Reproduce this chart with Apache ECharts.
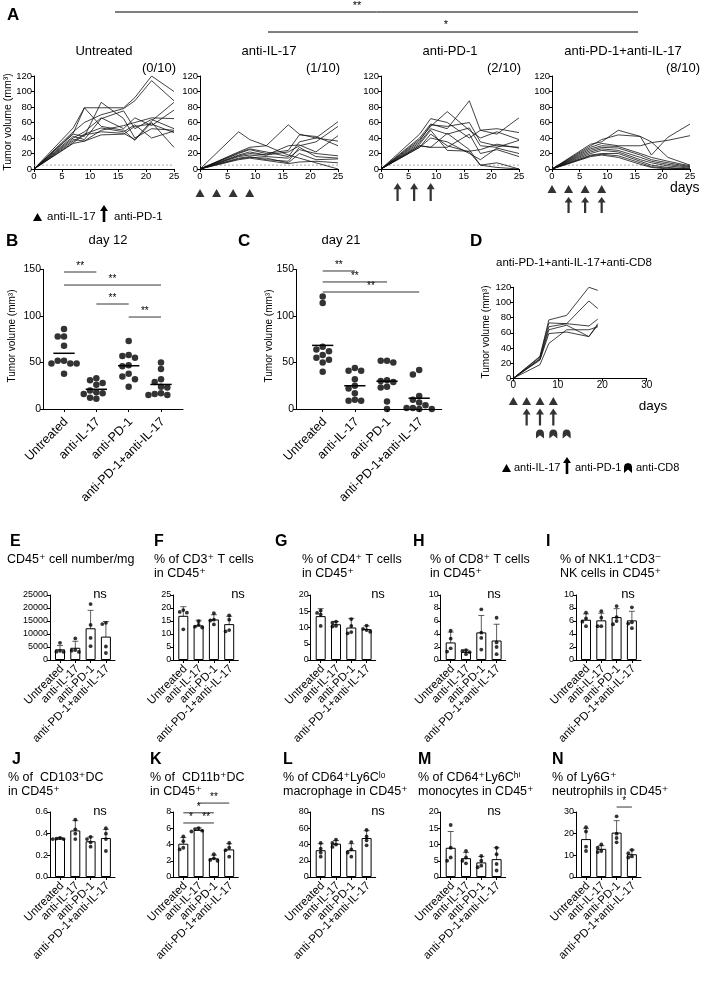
<!DOCTYPE html>
<html><head><meta charset="utf-8">
<script src="https://cdn.jsdelivr.net/npm/echarts@6/dist/echarts.min.js"></script>
<style>html,body{margin:0;padding:0;background:#fff}#c{width:701px;height:1000px}</style>
</head><body><div id="c"></div>
<script>
// ---------------- DATA ----------------
const groups = ['Untreated', 'anti-IL-17', 'anti-PD-1', 'anti-PD-1+anti-IL-17'];
const curveDays = [0, 7, 9, 12, 16, 18, 21, 25];
const untreatedCurves = [
  [0,53,79,79,79,92,120,100],[0,48,60,70,78,88,114,88],[0,46,79,55,50,37,60,28],
  [0,45,42,86,65,40,52,50],[0,42,38,65,75,52,64,52],[0,40,48,66,52,66,56,76],
  [0,38,36,50,56,60,66,65],[0,36,45,53,48,57,40,49],[0,34,44,48,46,38,62,86],
  [0,33,36,44,45,55,58,47]];
const antiIL17Curves = [
  [0,48,38,30,18,14,8,0],[0,22,28,30,57,45,40,36],[0,20,25,20,24,44,42,30],
  [0,21,26,22,16,35,40,61],[0,18,22,18,22,30,35,55],[0,17,20,18,30,31,22,43],
  [0,16,18,16,14,25,20,17],[0,14,16,12,10,28,16,14],[0,13,15,14,8,20,12,13],
  [0,12,14,11,7,9,10,8]];
const antiPD1Curves = [
  [0,45,65,60,40,50,52,47],[0,40,58,52,88,50,45,66],[0,38,55,74,50,40,48,38],
  [0,36,57,55,60,35,30,28],[0,34,52,45,53,30,28,37],[0,32,50,24,23,25,32,27],
  [0,30,28,28,45,20,25,16],[0,28,40,35,20,12,27,20],[0,28,45,30,22,5,8,0],
  [0,30,28,46,25,5,2,0]];
const comboCurves = [
  [0,32,35,50,42,35,15,5],[0,30,38,44,42,18,41,58],[0,28,33,30,30,34,37,43],
  [0,26,30,29,20,15,10,4],[0,24,28,27,18,12,8,3],[0,22,26,24,15,10,6,2],
  [0,20,24,22,12,8,4,1],[0,18,20,20,10,5,2,0],[0,17,19,17,8,3,1,0],
  [0,16,18,15,6,2,0,0]];
const panelATitles = ['Untreated', 'anti-IL-17', 'anti-PD-1', 'anti-PD-1+anti-IL-17'];
const panelAFree = ['(0/10)', '(1/10)', '(2/10)', '(8/10)'];
const tumorFreeThreshold = 5;

const il17Days = [0, 3, 6, 9];
const pd1Days = [3, 6, 9];
const cd8Days = [6, 9, 12];

const cd8CurveDays = [0, 6, 8, 12, 17, 19];
const cd8Curves = [
  [0,29,77,83,120,116],[0,28,73,72,102,92],[0,26,68,72,69,78],
  [0,25,64,70,55,72],[0,18,46,64,64,68],[0,24,59,61,55,70]];

const day12Volumes = [
  [86,78,78,68,52,52,49,49,49,38],
  [33,31,28,26,20,18,17,16,12,11],
  [73,58,57,55,47,46,38,35,32,24],
  [50,43,32,29,24,23,17,16,15,15]];
const day21Volumes = [
  [121,114,67,64,62,58,55,53,50,40],
  [44,41,41,32,25,22,17,10,9,9],
  [52,52,50,31,30,29,24,23,8,0],
  [42,37,14,10,7,4,1,1,0,0]];
const day12Sig = [[0,1,147.3,'**'],[0,3,133.3,'**'],[1,2,112.9,'**'],[2,3,98.9,'**']];
const day21Sig = [[0,1,148.4,'**'],[0,2,136.6,'**'],[0,3,125.8,'**']];

// flow panels: means, SD, individual mice
const cd45Means = [4100, 4700, 12200, 9000];
const cd45SD = [1500, 2500, 6900, 5800];
const cd45Dots = [[6600,3500,3200,3100],[8300,3600,3800,3100],[21500,13500,8500,5300],[14300,13800,5200,2700]];
const cd3Means = [17, 13.3, 15.6, 13.8];
const cd3SD = [3.5, 2, 1.8, 3];
const cd3Dots = [[19.2,18.5,18.2,11.8],[14.9,13.5,12.8,12.5],[18,15.5,15.2,13.7],[17.2,15.5,11.5,11.0]];
const cd4Means = [13.5, 11, 10, 9.5];
const cd4SD = [2.3, 0.8, 2.8, 1];
const cd4Dots = [[15.2,14.5,14,10.5],[11.8,11.5,10.5,10.3],[12.6,10.5,8.6,8.2],[10.6,9.6,9.2,8.7]];
const cd8Means = [2.7, 1.25, 4.25, 3.0];
const cd8SD = [1.6, 0.3, 2.6, 2.5];
const cd8Dots = [[4.5,3.3,1.8,1.3],[1.5,1.4,1.2,0.9],[7.8,4.2,3.4,1.6],[6.5,2.7,2.0,0.9]];
const nkMeans = [6.2, 6.1, 6.6, 6.1];
const nkSD = [0.9, 1.1, 1.3, 1.4];
const nkDots = [[7.3,6.4,5.9,5.2],[7.5,6.5,5.2,5.2],[8.3,6.6,6.0,5.5],[8.1,5.8,5.6,4.9]];
const cd103Means = [0.355, 0.43, 0.33, 0.36];
const cd103SD = [0.01, 0.09, 0.04, 0.08];
const cd103Dots = [[0.36,0.355,0.35,0.35],[0.53,0.44,0.40,0.35],[0.37,0.35,0.32,0.28],[0.45,0.40,0.35,0.24]];
const cd11bMeans = [4.1, 5.8, 2.3, 3.4];
const cd11bSD = [0.75, 0.25, 0.4, 0.7];
const cd11bDots = [[5.0,4.4,3.6,3.4],[6.0,5.9,5.7,5.6],[2.8,2.3,2.1,2.0],[4.2,3.6,3.3,2.5]];
const cd11bSig = [[1,3,9.1,'**'],[0,2,7.9,'*'],[0,1,6.65,'*'],[1,2,6.65,'**']];
const macMeans = [33, 41, 33, 48];
const macSD = [8, 4, 8, 9];
const macDots = [[42,35,30,25],[46,42,40,37],[43,34,30,25],[58,50,45,39]];
const monoMeans = [9, 5.8, 4.5, 5.5];
const monoSD = [5, 1.8, 1.8, 3.5];
const monoDots = [[16,9,6,5],[8,6,5,4.2],[6.5,5,3.5,3],[9,7,4,2]];
const neutMeans = [17.5, 13, 20.5, 10.5];
const neutSD = [5, 1.5, 5.5, 2];
const neutDots = [[23,21,14,12],[15,13.5,12,11.5],[28,20,18,16],[12.5,11,9.5,9]];
const neutSig = [[2,3,32.3,'*']];

// ---------------- BUILD ----------------
const FONT = '"Liberation Sans", Arial, Helvetica, "DejaVu Sans", sans-serif';
const option = {animation:false, backgroundColor:'#fff', grid:[], xAxis:[], yAxis:[], series:[], graphic:[]};

function axisBase(){
  return {
    axisLine:{show:true, onZero:false, lineStyle:{color:'#000', width:1}},
    axisTick:{show:true, inside:false, length:3, lineStyle:{color:'#000', width:1}},
    splitLine:{show:false}
  };
}
function valAxis(min, max, interval, fs, fmt){
  const a = axisBase();
  a.type='value'; a.min=min; a.max=max; a.interval=interval;
  a.axisLabel={show:true, fontSize:fs, color:'#000', fontFamily:FONT, margin:2,
    showMinLabel:true, showMaxLabel:true,
    formatter: fmt || (v=>String(Math.round(v*1000)/1000))};
  return a;
}
function catAxis(min, max){
  const a = axisBase();
  a.type='value'; a.min=min; a.max=max;
  a.axisTick.customValues=[0,1,2,3];
  a.axisLabel={show:false};
  return a;
}
// rotated group labels drawn at the category positions of the axis
function groupLabels(gi, ymin, fs, offset){
  option.series.push({type:'custom', xAxisIndex:gi, yAxisIndex:gi, silent:true, clip:false, z:5,
    data:groups.map((g,i)=>[i, ymin]),
    renderItem:(p, api)=>{
      const c = api.coord([api.value(0), api.value(1)]);
      return {type:'text', x:c[0]+2, y:c[1]+offset, rotation:Math.PI/4,
        style:{text:groups[p.dataIndex], align:'right', verticalAlign:'middle', fontSize:fs, fontFamily:FONT, fill:'#000'}};
    }});
}
function hiddenAxis(min, max){ return {type:'value', min, max, show:false}; }
function addGrid(g, xa, ya){
  option.grid.push(Object.assign({outerBoundsMode:'none', containLabel:false}, g));
  const i = option.grid.length-1;
  xa.gridIndex=i; ya.gridIndex=i;
  option.xAxis.push(xa); option.yAxis.push(ya);
  return i;
}
function T(text, x, y, o){
  o = o||{};
  option.graphic.push({type:'text', x, y, rotation:o.rot||0, silent:true, style:{
    text, fontSize:o.fs||12, fontFamily:FONT, fontWeight:o.fw||'normal', fill:'#000',
    align:o.align||'left', verticalAlign:o.va||'middle'}});
}
function Lg(x1,y1,x2,y2,w){
  option.graphic.push({type:'line', silent:true, shape:{x1,y1,x2,y2}, style:{stroke:'#000', lineWidth:w||1}});
}
function Poly(points){
  option.graphic.push({type:'polygon', silent:true, shape:{points}, style:{fill:'#000'}});
}
function markerRow(left, width, xmax, cy, days, symbol, size){
  const gi = addGrid({left, top:cy-1, width, height:2}, hiddenAxis(0,xmax), hiddenAxis(-1,1));
  option.series.push({type:'scatter', xAxisIndex:gi, yAxisIndex:gi, symbol, symbolSize:size,
    itemStyle:{color:'#000'}, data:days.map(d=>[d,0]), silent:true});
}
const ARROW = 'path://M5,0 L10,7 L6.4,7 L6.4,20 L3.6,20 L3.6,7 L0,7 Z';
const CHEV = 'path://M0,10 L0,5 Q0,0 5,0 Q10,0 10,5 L10,10 L5,6.5 Z';

function bracketSeries(gi, sig, fs){
  option.series.push({type:'custom', xAxisIndex:gi, yAxisIndex:gi, silent:true, clip:false,
    data:sig.map(s=>[s[0], s[1], s[2]]),
    renderItem:(p, api)=>{
      const a = api.coord([api.value(0), api.value(2)]);
      const b = api.coord([api.value(1), api.value(2)]);
      return {type:'group', children:[
        {type:'line', shape:{x1:a[0], y1:a[1], x2:b[0], y2:b[1]}, style:{stroke:'#000', lineWidth:0.8}},
        {type:'text', x:(a[0]+b[0])/2, y:a[1]-1, style:{text:sig[p.dataIndex][3], align:'center', verticalAlign:'bottom',
          fontSize:fs, fontFamily:FONT, fill:'#000'}}
      ]};
    }});
}

// simple beeswarm layout: returns horizontal offsets (category units)
function swarm(vals, pxPerUnit, step, pxPerCat){
  const order = vals.map((v,i)=>i).sort((a,b)=>vals[b]-vals[a]);
  const placed = []; const out = new Array(vals.length).fill(0);
  for (const i of order){
    const y = vals[i]*pxPerUnit;
    let chosen = 0;
    for (let k=0;k<30;k++){
      const cand = k===0 ? 0 : (k%2 ? -1 : 1)*Math.ceil(k/2)*step;
      if (placed.every(p=>Math.hypot(p.x-cand, p.y-y) >= step*0.95)){ chosen = cand; break; }
    }
    placed.push({x:chosen, y}); out[i] = chosen/pxPerCat;
  }
  return out;
}
const mean = a => a.reduce((s,v)=>s+v,0)/a.length;

// ---------- Panel A ----------
const aLayout = [{left:34,width:140},{left:200,width:138},{left:381,width:138},{left:552,width:138}];
const aCurves = [untreatedCurves, antiIL17Curves, antiPD1Curves, comboCurves];
aLayout.forEach((g,k)=>{
  const gi = addGrid({left:g.left, top:76, width:g.width, height:93},
    valAxis(0,25,5,9.5), valAxis(0,120,20,9.5));
  option.series.push({type:'line', xAxisIndex:gi, yAxisIndex:gi, showSymbol:false, silent:true,
    data:[[0,tumorFreeThreshold],[25,tumorFreeThreshold]], lineStyle:{color:'#aaa', width:1, type:[2,2]}});
  aCurves[k].forEach(c=>{
    option.series.push({type:'line', xAxisIndex:gi, yAxisIndex:gi, showSymbol:false, silent:true,
      data:c.map((v,j)=>[curveDays[j], v]), lineStyle:{color:'#111', width:0.8}});
  });
  T(panelATitles[k], g.left+g.width/2 + (k===3?2:0), 51, {fs:13, align:'center'});
  T(panelAFree[k], g.left+g.width+(k===3?10:2), 68, {fs:13, align:'right'});
});
markerRow(200,138,25,193,il17Days,'triangle',[9,8]);
markerRow(381,138,25,192,pd1Days,ARROW,[8,18]);
markerRow(552,138,25,189,il17Days,'triangle',[9,8]);
markerRow(552,138,25,205,pd1Days,ARROW,[8,16]);
T('A', 7, 15, {fs:17, fw:'bold'});
T('Tumor volume (mm³)', 8, 122, {fs:10.5, rot:Math.PI/2, align:'center'});
T('days', 670, 188, {fs:14});
Lg(115,12,638,12); T('**', 357, 6, {fs:11, align:'center'});
Lg(268,32,638,32); T('*', 446, 25, {fs:11, align:'center'});
// legend A
Poly([[33,221],[42,221],[37.5,213]]);
T('anti-IL-17', 47, 217, {fs:11.5});
Poly([[104,205],[108,211],[105.3,211],[105.3,222],[102.7,222],[102.7,211],[100,211]]);
T('anti-PD-1', 114, 217, {fs:11.5});

// ---------- Panel B / C ----------
function dotPanel(left, width, min, max, vols, sig){
  const gi = addGrid({left, top:269.5, width, height:139.5},
    catAxis(min, max), valAxis(0,150,50,10.5));
  const pxPerCat = width/(max-min);
  vols.forEach((vals,i)=>{
    const off = swarm(vals, 139.5/150, 6.3, pxPerCat);
    option.series.push({type:'scatter', xAxisIndex:gi, yAxisIndex:gi, symbolSize:6.5, silent:true,
      itemStyle:{color:'#000'}, data:vals.map((v,j)=>[i+off[j], v])});
  });
  option.series.push({type:'custom', xAxisIndex:gi, yAxisIndex:gi, silent:true,
    data:vols.map((v,i)=>[i, mean(v)]),
    renderItem:(p, api)=>{
      const a = api.coord([api.value(0)-0.33, api.value(1)]);
      const b = api.coord([api.value(0)+0.33, api.value(1)]);
      return {type:'line', shape:{x1:a[0],y1:a[1],x2:b[0],y2:b[1]}, style:{stroke:'#000', lineWidth:1.5}};
    }});
  bracketSeries(gi, sig, 10);
  groupLabels(gi, 0, 12.5, 11);
  return gi;
}
dotPanel(43, 140, -0.65, 3.68, day12Volumes, day12Sig);
dotPanel(296, 145.7, -0.83, 3.70, day21Volumes, day21Sig);
T('B', 6, 241, {fs:17, fw:'bold'});
T('day 12', 108, 240, {fs:13, align:'center'});
T('Tumor volume (mm³)', 12, 336, {fs:10, rot:Math.PI/2, align:'center'});
T('C', 238, 241, {fs:17, fw:'bold'});
T('day 21', 341, 240, {fs:13, align:'center'});
T('Tumor volume (mm³)', 269, 336, {fs:10, rot:Math.PI/2, align:'center'});

// ---------- Panel D ----------
(function(){
  const gi = addGrid({left:513.3, top:287.3, width:133.4, height:91},
    valAxis(0,30,10,10), valAxis(0,120,20,9.5));
  cd8Curves.forEach(c=>{
    option.series.push({type:'line', xAxisIndex:gi, yAxisIndex:gi, showSymbol:false, silent:true,
      data:c.map((v,j)=>[cd8CurveDays[j], v]), lineStyle:{color:'#111', width:0.8}});
  });
  markerRow(513.3,133.4,30,401,il17Days,'triangle',[9,8]);
  markerRow(513.3,133.4,30,417,pd1Days,ARROW,[8,17]);
  markerRow(513.3,133.4,30,434,cd8Days,CHEV,[8,9]);
})();
T('D', 470, 241, {fs:17, fw:'bold'});
T('anti-PD-1+anti-IL-17+anti-CD8', 574, 263, {fs:11.5, align:'center'});
T('Tumor volume (mm³)', 486, 332, {fs:10, rot:Math.PI/2, align:'center'});
T('days', 653, 406, {fs:13.5, align:'center'});
Poly([[502,472],[511,472],[506.5,464]]);
T('anti-IL-17', 514, 468, {fs:11});
Poly([[567,457],[571,463],[568.3,463],[568.3,474],[565.7,474],[565.7,463],[563,463]]);
T('anti-PD-1', 575, 468, {fs:11});
Poly([[624,473],[624,466.5],[625,464],[628,463],[631,464],[632,466.5],[632,473],[628,469.5]]);
T('anti-CD8', 636, 468, {fs:11});

// ---------- Flow panels ----------
function barPanel(left, top, ymax, yint, means, sds, dots, fmt, sig){
  const gi = addGrid({left, top, width:65, height:65},
    catAxis(-10/15.3, 55/15.3), valAxis(0,ymax,yint,9,fmt));
  option.series.push({type:'bar', xAxisIndex:gi, yAxisIndex:gi, barWidth:10, silent:true,
    itemStyle:{color:'#fff', borderColor:'#000', borderWidth:1},
    data:means.map((m,i)=>[i,m])});
  option.series.push({type:'custom', xAxisIndex:gi, yAxisIndex:gi, silent:true,
    data:means.map((m,i)=>[i,m,sds[i]]),
    renderItem:(p, api)=>{
      const x=api.value(0), m=api.value(1), s=api.value(2);
      const t=api.coord([x,m+s]), b=api.coord([x,Math.max(0,m-s)]);
      const st={stroke:'#333', lineWidth:0.8};
      return {type:'group', children:[
        {type:'line', shape:{x1:t[0],y1:t[1],x2:b[0],y2:b[1]}, style:st},
        {type:'line', shape:{x1:t[0]-3,y1:t[1],x2:t[0]+3,y2:t[1]}, style:st},
        {type:'line', shape:{x1:b[0]-3,y1:b[1],x2:b[0]+3,y2:b[1]}, style:st}
      ]};
    }});
  dots.forEach((vals,i)=>{
    const off = swarm(vals, 65/ymax, 3.6, 15.3);
    option.series.push({type:'scatter', xAxisIndex:gi, yAxisIndex:gi, symbolSize:3.8, silent:true,
      itemStyle:{color:'#000'}, data:vals.map((v,j)=>[i+off[j], v])});
  });
  if (sig) bracketSeries(gi, sig, 10);
  groupLabels(gi, 0, 11.5, 7);
  return gi;
}
const R1 = 595, R2 = 812;
barPanel(50, R1, 25000, 5000, cd45Means, cd45SD, cd45Dots);
barPanel(173.3, R1, 25, 5, cd3Means, cd3SD, cd3Dots);
barPanel(310.7, R1, 20, 5, cd4Means, cd4SD, cd4Dots);
barPanel(440.7, R1, 10, 2, cd8Means, cd8SD, cd8Dots);
barPanel(576, R1, 10, 2, nkMeans, nkSD, nkDots);
barPanel(50, R2, 0.6, 0.2, cd103Means, cd103SD, cd103Dots, v=>v.toFixed(1));
barPanel(173.3, R2, 8, 2, cd11bMeans, cd11bSD, cd11bDots, null, cd11bSig);
barPanel(310.7, R2, 80, 20, macMeans, macSD, macDots);
barPanel(440.7, R2, 20, 5, monoMeans, monoSD, monoDots);
barPanel(576, R2, 30, 10, neutMeans, neutSD, neutDots, null, neutSig);

// letters and titles row 1
[['E',10],['F',154],['G',275],['H',413],['I',546]].forEach(([l,x])=>T(l,x,542,{fs:16,fw:'bold'}));
T('CD45⁺ cell number/mg', 7, 560, {fs:12.5});
T('% of CD3⁺ T cells', 154, 560, {fs:12.5}); T('in CD45⁺', 154, 574, {fs:12.5});
T('% of CD4⁺ T cells', 302, 560, {fs:12.5}); T('in CD45⁺', 302, 574, {fs:12.5});
T('% of CD8⁺ T cells', 430, 560, {fs:12.5}); T('in CD45⁺', 430, 574, {fs:12.5});
T('% of NK1.1⁺CD3⁻', 560, 560, {fs:12.5}); T('NK cells in CD45⁺', 560, 574, {fs:12.5});
[[100],[238],[378],[494],[628]].forEach(([x])=>T('ns', x, 594, {fs:13, align:'center'}));
// row 2
[['J',12],['K',150],['L',283],['M',418],['N',552]].forEach(([l,x])=>T(l,x,760,{fs:16,fw:'bold'}));
T('% of  CD103⁺DC', 8, 778, {fs:12.5}); T('in CD45⁺', 8, 792, {fs:12.5});
T('% of  CD11b⁺DC', 150, 778, {fs:12.5}); T('in CD45⁺', 150, 792, {fs:12.5});
T('% of CD64⁺Ly6Cˡᵒ', 283, 778, {fs:12.5}); T('macrophage in CD45⁺', 283, 792, {fs:12.5});
T('% of CD64⁺Ly6Cʰⁱ', 418, 778, {fs:12.5}); T('monocytes in CD45⁺', 418, 792, {fs:12.5});
T('% of Ly6G⁺', 552, 778, {fs:12.5}); T('neutrophils in CD45⁺', 552, 792, {fs:12.5});
T('ns', 100, 811, {fs:13, align:'center'});
T('ns', 378, 811, {fs:13, align:'center'});
T('ns', 494, 811, {fs:13, align:'center'});

const chart = echarts.init(document.getElementById('c'), null, {renderer:'canvas', width:701, height:1000});
chart.setOption(option);
</script></body></html>
